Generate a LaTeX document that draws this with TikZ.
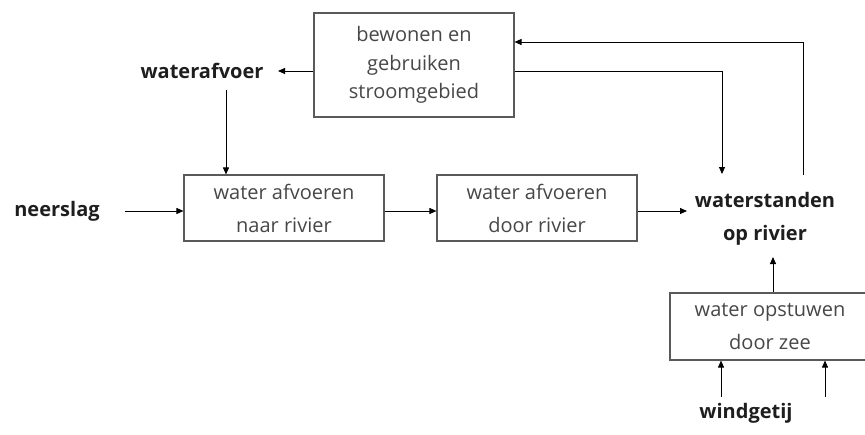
\documentclass[tikz,border=0pt]{standalone}
\usepackage{fontspec}
\setmainfont{Open Sans}
\usetikzlibrary{arrows.meta,calc}
\definecolor{boxline}{HTML}{5A5A5A}
\definecolor{boxtext}{HTML}{474747}
\definecolor{labeltext}{HTML}{1E1E1E}
\begin{document}
\begin{tikzpicture}[x=1pt,y=-1pt,
  procbox/.style={draw=boxline,line width=1.1pt,minimum width=200pt,
    inner sep=0pt,align=center,text=boxtext,
    font=\fontsize{20}{28.5}\selectfont},
  widebox/.style={procbox,font=\fontsize{20}{33}\selectfont},
  factor/.style={inner sep=0pt,align=center,text=labeltext,
    font=\fontsize{20}{33}\selectfont\bfseries},
  arr/.style={draw=black,line width=0.9pt,-{Triangle[length=7pt,width=6pt]}}]
\useasboundingbox (0,0) rectangle (865,434);
\clip (0,0) rectangle (865,434);

% process boxes
\node[procbox,minimum height=104pt] (use) at (414,65)
  {bewonen en\\gebruiken\\stroomgebied};
\node[widebox,minimum height=66pt] (drain) at (284,208)
  {water afvoeren\\naar rivier};
\node[widebox,minimum height=66pt] (river) at (537,208)
  {water afvoeren\\door rivier};
\node[widebox,minimum height=67pt] (sea) at (770,326.5)
  {water opstuwen\\door zee};

% driving factors and outcomes
\node[factor] (runoff) at (202,71) {waterafvoer};
\node[factor] (rain) at (57,211) {neerslag};
\node[factor] (levels) at (765,219) {waterstanden\\op rivier};
\node[factor] (wind) at (746,413) {windgetij};

% connector end points
\coordinate (runoffR) at (278,71);
\coordinate (runoffB) at (226,90);
\coordinate (rainR) at (125,211);
\coordinate (levelsL) at (687,211);
\coordinate (levelsT) at (722,174);
\coordinate (levelsB) at (773,257);
\coordinate (feedback) at (803,175);
\coordinate (windL) at (721,397);
\coordinate (windR) at (825,397);

% flows
\draw[arr] (use.west |- runoffR) -- (runoffR);
\draw[arr] (runoffB) -- (runoffB |- drain.north);
\draw[arr] (rainR) -- (drain.west |- rainR);
\draw[arr] (drain.east |- rainR) -- (river.west |- rainR);
\draw[arr] (river.east |- rainR) -- (levelsL);
\draw[arr] (use.east |- runoffR) -| (levelsT);
\draw[arr] (feedback) |- (use.east |- 0,42);
\draw[arr] (sea.north -| levelsB) -- (levelsB);
\draw[arr] (windL) -- (windL |- sea.south);
\draw[arr] (windR) -- (windR |- sea.south);
\end{tikzpicture}
\end{document}
